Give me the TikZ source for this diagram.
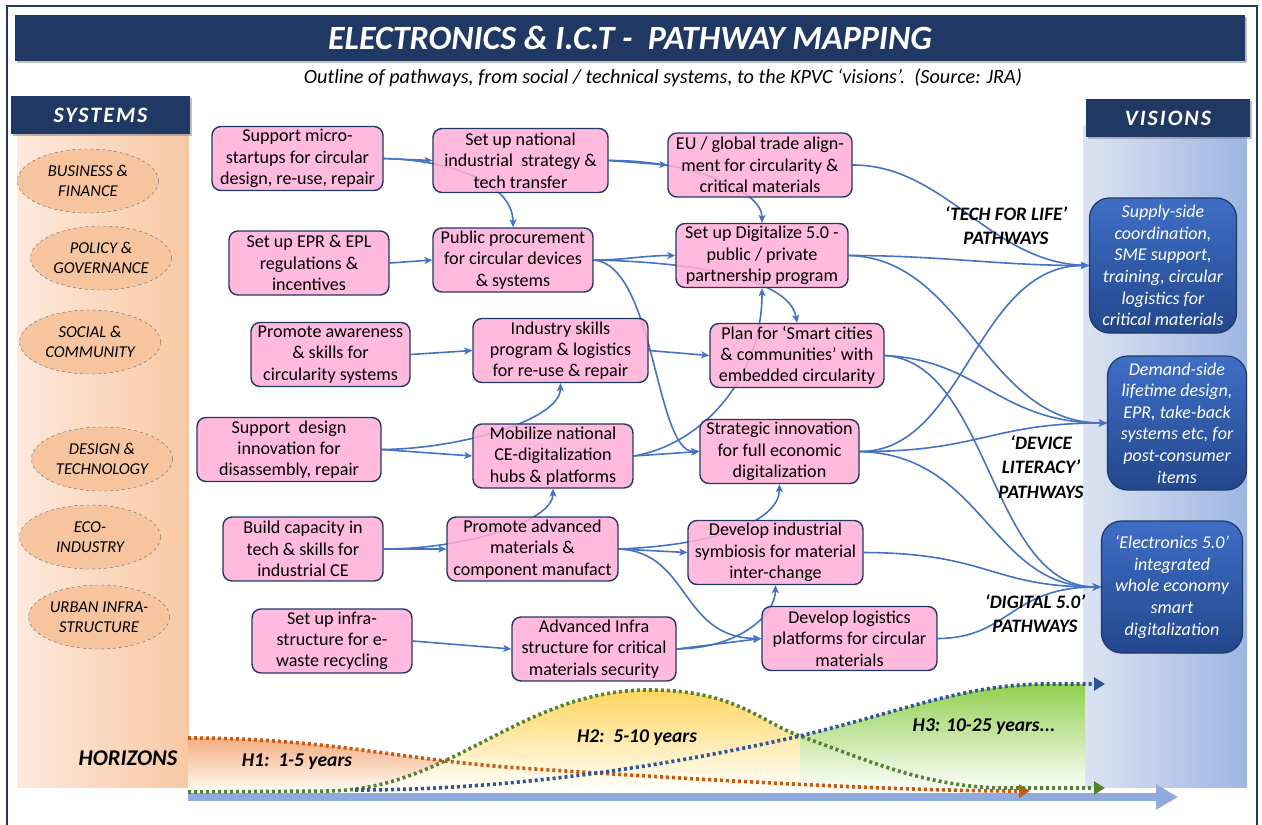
\documentclass[tikz,border=0pt]{standalone}
\usepackage{fontspec}
\setmainfont{Carlito}
\usetikzlibrary{arrows.meta,shapes.geometric,shadows,backgrounds}
\pgfdeclarelayer{links}
\pgfsetlayers{background,links,main}

\definecolor{navy}{HTML}{203864}
\definecolor{pinkbox}{HTML}{FFAFD8}
\definecolor{linkblue}{HTML}{4472C4}
\definecolor{peachlight}{HTML}{FDE9DC}
\definecolor{peachdeep}{HTML}{F8C8A4}
\definecolor{peachring}{HTML}{F7C4A0}
\definecolor{skylight}{HTML}{DCE4F3}
\definecolor{skydeep}{HTML}{9DB5E1}
\definecolor{visiontop}{HTML}{3F6EC6}
\definecolor{visionbot}{HTML}{23478C}
\definecolor{hOne}{HTML}{F4AE80}
\definecolor{hTwo}{HTML}{FFD55C}
\definecolor{hThree}{HTML}{92D050}
\definecolor{dotorange}{HTML}{C55A11}
\definecolor{dotgreen}{HTML}{548235}
\definecolor{dotblue}{HTML}{2F5597}
\definecolor{axisblue}{HTML}{8FAADC}

\tikzset{
  action/.style={draw=navy, line width=1.4pt, fill=pinkbox, fill opacity=0.86,
    text opacity=1, rounded corners=9pt, align=center, minimum height=64pt,
    inner sep=1pt, font=\fontsize{18.1}{21.3}\selectfont},
  vision/.style={draw=navy, line width=1.2pt, rounded corners=20pt,
    top color=visiontop, bottom color=visionbot, text=white, align=center,
    inner sep=1pt, font=\itshape\fontsize{18}{21.6}\selectfont},
  sysring/.style={ellipse, draw=black!60, dashed, fill=peachring,
    minimum width=141pt, minimum height=64pt, inner sep=0pt, align=center,
    font=\itshape\fontsize{16.6}{20}\selectfont},
  banner/.style={fill=navy, text=white, drop shadow, inner sep=0pt,
    font=\bfseries\itshape\fontsize{22}{26}\selectfont},
  link/.style={draw=linkblue, line width=1.6pt,
    -{Stealth[length=8pt,width=7pt,inset=2pt]}},
  pathlabel/.style={align=center, font=\bfseries\itshape\fontsize{19}{24.5}\selectfont},
  hlabel/.style={font=\bfseries\itshape\fontsize{19.5}{24}\selectfont},
  horizon/.style={line width=3.6pt, dash pattern=on 3pt off 3pt,
    -{Triangle[length=11pt,width=13pt]}},
}

\begin{document}
\begin{tikzpicture}[x=1pt,y=-1pt]
\useasboundingbox (0,0) rectangle (1262,825);

% side columns
\begin{scope}[on background layer]
\shade[left color=peachlight, right color=peachdeep] (17,125) rectangle (189,787);
\shade[left color=skylight, right color=skydeep] (1083,125) rectangle (1247,787);
\end{scope}
\draw[navy, line width=1.5pt] (7,825) -- (7,6) -- (1257,6) -- (1257,825);

% banners
\node[banner, minimum width=1230pt, minimum height=46pt,
  font=\bfseries\itshape\fontsize{34}{38}\selectfont] (title) at (630,38)
  {ELECTRONICS \& I.C.T -\ \ PATHWAY MAPPING};
\node[font=\itshape\fontsize{20.2}{24}\selectfont] (subtitle) at (663,78)
  {Outline of pathways, from social / technical systems, to the KPVC ‘visions’.\ \ (Source: JRA)};
\node[banner, minimum width=179pt, minimum height=38pt] (systems) at (100.5,115)
  {\addfontfeatures{LetterSpace=9}SYSTEMS};
\node[banner, minimum width=164pt, minimum height=38pt] (visions) at (1168,118)
  {\addfontfeatures{LetterSpace=9}VISIONS};

% systems
\node[sysring] (business) at (88,181) {BUSINESS \&\\FINANCE};
\node[sysring] (policy) at (101,258) {POLICY \&\\GOVERNANCE};
\node[sysring] (social) at (90,342) {SOCIAL \&\\COMMUNITY};
\node[sysring] (design) at (102,459) {DESIGN \&\\TECHNOLOGY};
\node[sysring] (eco) at (90,537) {ECO-\\INDUSTRY};
\node[sysring] (urban) at (99,617) {URBAN INFRA-\\STRUCTURE};

% horizons
\begin{scope}
\clip (188,600) -- (188,792) -- (330,791) .. controls (450,789) and (520,692) .. (645,690) -- (645,600) -- cycle;
\shade[top color=hOne, bottom color=white] (188,738) .. controls (330,738) and (400,760) .. (520,768) -- (520,795) -- (188,795) -- cycle;
\end{scope}
\shade[top color=hTwo, bottom color=white] (330,791) .. controls (450,789) and (520,692) .. (645,690)
  .. controls (735,689) and (760,722) .. (800,736) -- (800,792) -- (188,792) -- (188,791) -- cycle;
\shade[top color=hThree, bottom color=white] (800,736) .. controls (900,712) and (960,686) .. (1040,684)
  -- (1085,684) -- (1085,792) -- (800,792) -- cycle;
\draw[axisblue, line width=8pt, -{Triangle[length=22pt,width=24pt]}] (188,797) -- (1178,797);
\draw[horizon, draw=dotorange] (188,738) .. controls (330,738) and (400,760) .. (520,768)
  .. controls (700,780) and (900,791) .. (1030,791);
\draw[horizon, draw=dotgreen] (188,792) -- (330,791) .. controls (450,789) and (520,692) .. (645,690)
  .. controls (735,689) and (760,722) .. (800,736) .. controls (860,757) and (920,786) .. (1000,788) -- (1105,788);
\draw[horizon, draw=dotblue] (355,790) .. controls (500,790) and (650,770) .. (800,736)
  .. controls (900,712) and (960,686) .. (1040,684) -- (1105,684);
\node[hlabel, font=\bfseries\itshape\fontsize{22.5}{26}\selectfont] (horizons) at (128,758) {HORIZONS};
\node[hlabel] (hone) at (297,762) {H1:\ \ 1-5 years};
\node[hlabel] (htwo) at (637,738) {H2:\ \ 5-10 years};
\node[hlabel] (hthree) at (984,727) {H3: 10-25 years...};

% pathway steps
\node[action, minimum width=171pt] (a1) at (297.5,158.5) {Support micro-\\startups for circular\\design, re-use, repair};
\node[action, minimum width=160pt] (a2) at (309,263) {Set up EPR \& EPL\\regulations \&\\incentives};
\node[action, minimum width=159pt] (a3) at (330.5,354.5) {Promote awareness\\\& skills for\\circularity systems};
\node[action, minimum width=184pt] (a4) at (289,449.5) {Support\ \ design\\innovation for\\disassembly, repair};
\node[action, minimum width=160pt] (a5) at (303,549) {Build capacity in\\tech \& skills for\\industrial CE};
\node[action, minimum width=160pt] (a6) at (332,641) {Set up infra-\\structure for e-\\waste recycling};

\node[action, minimum width=175pt] (b1) at (520.5,160.5) {Set up national\\industrial\ \ strategy \&\\tech transfer};
\node[action, minimum width=160pt] (b2) at (513,260) {Public procurement\\for circular devices\\\& systems};
\node[action, minimum width=175pt] (b3) at (560.5,350.5) {Industry skills\\program \& logistics\\for re-use \& repair};
\node[action, minimum width=160pt] (b4) at (553,456) {Mobilize national\\CE-digitalization\\hubs \& platforms};
\node[action, minimum width=171pt] (b5) at (532.5,549) {Promote advanced\\materials \&\\component manufact};
\node[action, minimum width=164pt] (b6) at (594,649) {Advanced Infra\\structure for critical\\materials security};

\node[action, minimum width=184pt] (c1) at (760,165) {EU / global trade align-\\ment for circularity \&\\critical materials};
\node[action, minimum width=172pt] (c2) at (762,255.5) {Set up Digitalize 5.0 -\\public / private\\partnership program};
\node[action, minimum width=174pt] (c3) at (797,355.5) {Plan for ‘Smart cities\\\& communities’ with\\embedded circularity};
\node[action, minimum width=159pt] (c4) at (779.5,451.5) {Strategic innovation\\for full economic\\digitalization};
\node[action, minimum width=175pt] (c5) at (775.5,552.5) {Develop industrial\\symbiosis for material\\inter-change};
\node[action, minimum width=175pt] (c6) at (849.5,638.5) {Develop logistics\\platforms for circular\\materials};

% visions
\node[vision, minimum width=147pt, minimum height=135pt] (supply) at (1163,265.5)
  {Supply-side\\coordination,\\SME support,\\training, circular\\logistics for\\critical materials};
\node[vision, minimum width=139pt, minimum height=134pt] (demand) at (1177,423)
  {Demand-side\\lifetime design,\\EPR, take-back\\systems etc, for\\post-consumer\\items};
\node[vision, minimum width=141pt, minimum height=132pt] (electro) at (1172,587)
  {‘Electronics 5.0’\\integrated\\whole economy\\smart\\digitalization};

\node[pathlabel] (techlife) at (1006,225.5) {‘TECH FOR LIFE’\\PATHWAYS};
\node[pathlabel] (device) at (1041,467) {‘DEVICE\\LITERACY’\\PATHWAYS};
\node[pathlabel] (digital) at (1035,613.5) {‘DIGITAL 5.0’\\PATHWAYS};

% connectors
\begin{pgfonlayer}{links}
\draw[link] (a1.east) -- (b1.west);
\draw[link] (a1.east) .. controls (455,160) and (513,185) .. (b2.north);
\draw[link] (b1.east) -- (c1.west);
\draw[link] (b1.east) .. controls (690,160) and (762,190) .. (c2.north);
\draw[link] (c1.east) .. controls (945,165) and (990,262) .. (supply.west);

\draw[link] (a2.east) -- (b2.west);
\draw[link] (b2.east) to[out=0,in=180] (c2.west);
\draw[link] (b2.east) .. controls (700,262) and (790,280) .. (c3.north);
\draw[link] (b2.east) .. controls (655,265) and (655,452) .. (c4.west);
\draw[link] (c2.east) to[out=0,in=180] (supply.west);
\draw[link] (c2.east) .. controls (965,258) and (985,423) .. (demand.west);

\draw[link] (a3.east) -- (b3.west);
\draw[link] (b3.east) -- (c3.west);
\draw[link] (c3.east) .. controls (980,360) and (1000,423) .. (demand.west);
\draw[link] (c3.east) .. controls (990,362) and (990,587) .. (electro.west);

\draw[link] (a4.east) -- (b4.west);
\draw[link] (a4.east) .. controls (460,449) and (560,420) .. (b3.south);
\draw[link] (b4.east) -- (c4.west);
\draw[link] (b4.east) .. controls (700,445) and (762,380) .. (c2.south);
\draw[link] (c4.east) .. controls (965,452) and (975,265) .. (supply.west);
\draw[link] (c4.east) .. controls (980,452) and (990,423) .. (demand.west);
\draw[link] (c4.east) .. controls (985,455) and (990,587) .. (electro.west);

\draw[link] (a5.east) -- (b5.west);
\draw[link] (a5.east) .. controls (470,549) and (553,520) .. (b4.south);
\draw[link] (b5.east) -- (c5.west);
\draw[link] (b5.east) .. controls (720,545) and (779,520) .. (c4.south);
\draw[link] (b5.east) .. controls (690,552) and (680,638) .. (c6.west);
\draw[link] (c5.east) .. controls (990,553) and (990,587) .. (electro.west);

\draw[link] (a6.east) -- (b6.west);
\draw[link] (b6.east) -- (c6.west);
\draw[link] (b6.east) .. controls (740,648) and (775,615) .. (c5.south);
\draw[link] (c6.east) .. controls (1010,638) and (1010,587) .. (electro.west);
\end{pgfonlayer}
\end{tikzpicture}
\end{document}
